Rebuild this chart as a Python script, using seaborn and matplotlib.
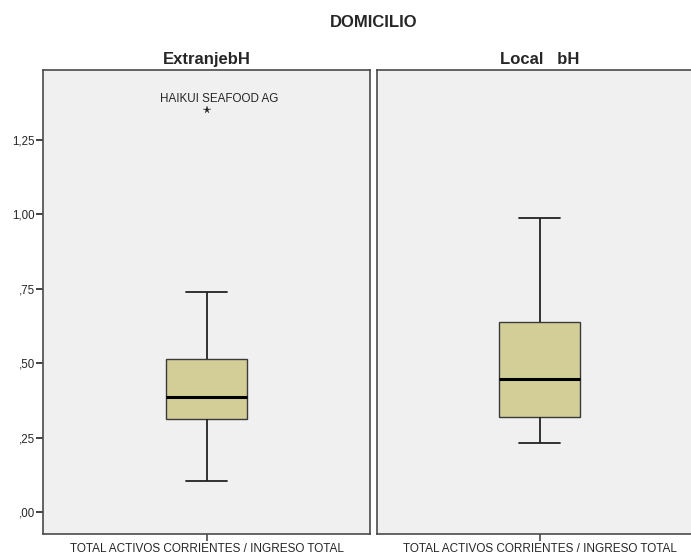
import matplotlib
matplotlib.use("Agg")
import matplotlib.pyplot as plt
import pandas as pd
import seaborn as sns

# Five-number summaries per domicile group
groups = ["ExtranjebH", "Local   bH"]
whisker_low = [0.104, 0.231]
q1 = [0.314, 0.318]
median = [0.386, 0.447]
q3 = [0.513, 0.640]
whisker_high = [0.738, 0.987]
# Outlier (only in the foreign group)
outlier_value = 1.351
outlier_label = "HAIKUI SEAFOOD AG"

variable = "TOTAL ACTIVOS CORRIENTES / INGRESO TOTAL"
ytick_values = [0.0, 0.25, 0.50, 0.75, 1.00, 1.25]
ytick_labels = [",00", ",25", ",50", ",75", "1,00", "1,25"]

# Minimal samples whose quartiles reproduce the summaries above
samples = [
    [whisker_low[0], q1[0], q1[0], median[0], median[0], q3[0], q3[0],
     whisker_high[0], outlier_value],
    [whisker_low[1], q1[1], median[1], q3[1], whisker_high[1]],
]

sns.set_theme(style="white")
plt.rcParams["font.family"] = ["Liberation Sans", "DejaVu Sans"]

W, H = 691, 556
fig = plt.figure(figsize=(W / 100, H / 100), dpi=100)
fig.patch.set_facecolor("white")

top, bottom = 70, 533.5
panels = [(43, 370), (377, 702)]
box_color = "#D3CE97"
edge = "#3a3a3a"

for i, (x0, x1) in enumerate(panels):
    ax = fig.add_axes([x0 / W, (H - bottom) / H, (x1 - x0) / W, (bottom - top) / H])
    df = pd.DataFrame({"var": variable, "value": samples[i]})
    sns.boxplot(
        data=df, x="var", y="value", ax=ax, width=0.25, whis=1.5,
        color=box_color, saturation=1,
        boxprops=dict(facecolor=box_color, edgecolor=edge, linewidth=1.0),
        medianprops=dict(color="black", linewidth=2.2),
        whiskerprops=dict(color="#222222", linewidth=1.3),
        capprops=dict(color="#222222", linewidth=1.3),
        flierprops=dict(marker="*", markersize=5.5, markerfacecolor="#222222",
                        markeredgecolor="#222222", markeredgewidth=0.2),
    )
    ax.set_facecolor("#F0F0F0")
    ax.set_ylim(-0.072, 1.485)
    ax.set_xlim(-0.5, 0.5)
    ax.set_xlabel("")
    ax.set_ylabel("")
    for s in ax.spines.values():
        s.set_color("#4a4a4a")
        s.set_linewidth(1.2)
        s.set_visible(True)
    ax.tick_params(axis="x", length=5, width=1.2, color="#4a4a4a",
                   labelsize=8.5, pad=1.5, direction="out", bottom=True)
    ax.set_title(groups[i], fontsize=12, fontweight="bold", pad=4)
    if i == 0:
        ax.set_yticks(ytick_values)
        ax.set_yticklabels(ytick_labels)
        ax.tick_params(axis="y", length=5, width=1.2, color="#222222",
                       labelsize=8.3, pad=1, direction="out", left=True)
        ax.annotate(outlier_label, xy=(0, outlier_value), xytext=(9, 8),
                    textcoords="offset points", ha="center", va="center",
                    fontsize=8.4)
    else:
        ax.set_yticks([])

fig.text(374 / W, 1 - 22.3 / H, "DOMICILIO", ha="center", va="center",
         fontsize=12, fontweight="bold")

fig.savefig("out.png", dpi=100)
